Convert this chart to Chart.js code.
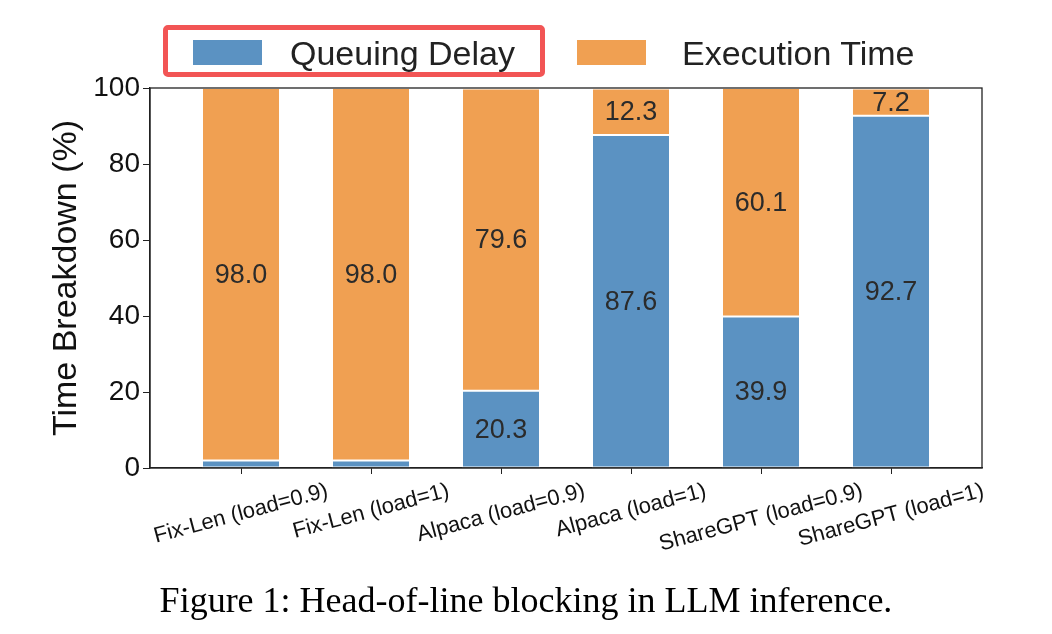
<!DOCTYPE html>
<html>
<head>
<meta charset="utf-8">
<script src="https://cdn.jsdelivr.net/npm/chart.js@4.4.1/dist/chart.umd.min.js"></script>
<style>
  body { margin: 0; background: #fff; }
  #wrap { position: relative; width: 1052px; height: 634px; overflow: hidden; font-family: "Liberation Sans", Arial, sans-serif; }
  #chart { position: absolute; left: 0; top: 0; }
  .legend-box { position: absolute; left: 163px; top: 25px; width: 372px; height: 42px; border: 5px solid #f25555; border-radius: 5px; }
  .swatch { position: absolute; top: 40px; width: 69px; height: 25px; }
  .legend-text { position: absolute; top: 33px; font-size: 34px; line-height: 40px; color: #222; white-space: nowrap; }
  .caption { position: absolute; left: 0; width: 1052px; top: 578px; text-align: center; font-family: "Liberation Serif", "Times New Roman", serif; font-size: 36px; line-height: 44px; color: #000; }
</style>
</head>
<body>
<div id="wrap">
  <canvas id="chart" width="1052" height="634"></canvas>
  <div class="legend-box"></div>
  <div class="swatch" style="left:193px;background:#5b92c2;"></div>
  <div class="legend-text" style="left:290px;">Queuing Delay</div>
  <div class="swatch" style="left:577px;background:#f0a052;"></div>
  <div class="legend-text" style="left:682px;">Execution Time</div>
  <div class="caption">Figure 1: Head-of-line blocking in LLM inference.</div>
</div>
<script>
// data
const categories = ['Fix-Len (load=0.9)', 'Fix-Len (load=1)', 'Alpaca (load=0.9)', 'Alpaca (load=1)', 'ShareGPT (load=0.9)', 'ShareGPT (load=1)'];
const queuingDelay = [2.0, 2.0, 20.3, 87.6, 39.9, 92.7];
const executionTime = [98.0, 98.0, 79.6, 12.3, 60.1, 7.2];
const yTicks = [0, 20, 40, 60, 80, 100];

const BLUE = '#5b92c2';
const ORANGE = '#f0a052';

const toPoints = vals => vals.map((v, i) => ({ x: i, y: v }));

// value labels in the middle of each segment
const segmentLabels = {
  id: 'segmentLabels',
  afterDatasetsDraw(chart) {
    const ctx = chart.ctx;
    ctx.save();
    ctx.font = '27px "Liberation Sans", Arial, sans-serif';
    ctx.fillStyle = '#2b2b2b';
    ctx.textAlign = 'center';
    ctx.textBaseline = 'middle';
    chart.data.datasets.forEach((ds, di) => {
      chart.getDatasetMeta(di).data.forEach((bar, i) => {
        const v = ds.data[i].y;
        if (v < 5) return;
        ctx.fillText(v.toFixed(1), bar.x, (bar.y + bar.base) / 2 + 1);
      });
    });
    ctx.restore();
  }
};

// rotated category labels centred under ticks, plus box frame
const axisExtras = {
  id: 'axisExtras',
  afterDraw(chart) {
    const ctx = chart.ctx;
    const xs = chart.scales.x;
    const area = chart.chartArea;
    const ang = 15 * Math.PI / 180;
    const fs = 22;
    ctx.save();
    ctx.font = fs + 'px "Liberation Sans", Arial, sans-serif';
    ctx.fillStyle = '#111';
    ctx.textAlign = 'center';
    ctx.textBaseline = 'middle';
    categories.forEach((label, i) => {
      const w = ctx.measureText(label).width;
      const x = xs.getPixelForValue(i);
      const cy = area.bottom + 12 + (w * Math.sin(ang) + fs * Math.cos(ang)) / 2;
      ctx.save();
      ctx.translate(x, cy);
      ctx.rotate(-ang);
      ctx.fillText(label, 0, 0);
      ctx.restore();
    });
    ctx.strokeStyle = '#222';
    ctx.lineWidth = 1.3;
    ctx.strokeRect(area.left, area.top, area.right - area.left, area.bottom - area.top);
    ctx.restore();
  }
};

new Chart(document.getElementById('chart').getContext('2d'), {
  type: 'bar',
  data: {
    datasets: [
      { label: 'Queuing Delay', data: toPoints(queuingDelay), backgroundColor: BLUE, borderColor: '#ffffff', borderWidth: 1, borderSkipped: false, barPercentage: 0.6, categoryPercentage: 1 },
      { label: 'Execution Time', data: toPoints(executionTime), backgroundColor: ORANGE, borderColor: '#ffffff', borderWidth: 1, borderSkipped: false, barPercentage: 0.6, categoryPercentage: 1 }
    ]
  },
  options: {
    responsive: false,
    animation: false,
    layout: { padding: { left: 0, top: 88, right: 70, bottom: 0 } },
    plugins: { legend: { display: false }, tooltip: { enabled: false } },
    scales: {
      x: {
        type: 'linear',
        stacked: true,
        offset: false,
        min: -0.7,
        max: 5.7,
        afterBuildTicks: s => { s.ticks = categories.map((_, i) => ({ value: i })); },
        afterFit: s => { s.height = 166; },
        ticks: { callback: () => '', autoSkip: false, maxRotation: 0 },
        grid: { offset: false, drawOnChartArea: false, drawTicks: true, tickLength: 6, color: '#222' },
        border: { display: true, color: '#222', width: 1.3 }
      },
      y: {
        stacked: true,
        min: 0,
        max: 100,
        afterBuildTicks: s => { s.ticks = yTicks.map(v => ({ value: v })); },
        afterFit: s => { s.width = 150; },
        ticks: { font: { size: 28, family: '"Liberation Sans", Arial, sans-serif' }, color: '#111', padding: 3 },
        grid: { drawOnChartArea: false, drawTicks: true, tickLength: 7, color: '#222' },
        border: { display: true, color: '#222', width: 1.3 },
        title: { display: true, text: 'Time Breakdown (%)', font: { size: 34, family: '"Liberation Sans", Arial, sans-serif' }, color: '#111', padding: { top: 46, bottom: 0 } }
      }
    }
  },
  plugins: [segmentLabels, axisExtras]
});
</script>
</body>
</html>
